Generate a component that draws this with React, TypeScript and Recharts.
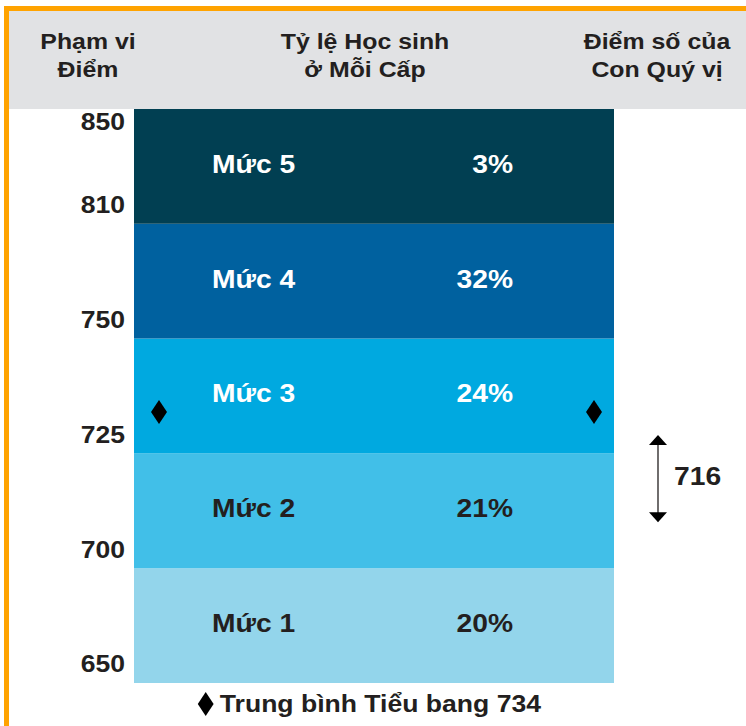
import React from "react";
import { BarChart, Bar, XAxis, YAxis, ReferenceDot, ReferenceArea } from "recharts";

const levels = ["Mức 1", "Mức 2", "Mức 3", "Mức 4", "Mức 5"];
const percents = [20, 21, 24, 32, 3];
const cutScores = [650, 700, 725, 750, 810, 850];
const bandUnits = [1, 1, 1, 1, 1]; // every level drawn with the same height
const bandColors = ["#93d5eb", "#41bfe8", "#00a9e0", "#00619f", "#013f52"];
const labelColors = ["#231f20", "#231f20", "#ffffff", "#ffffff", "#ffffff"];
const stateAverage = 734;
const childScore = 716;
const childLow = 710;
const childHigh = 729;
const headers = [
  ["Phạm vi", "Điểm"],
  ["Tỷ lệ Học sinh", "ở Mỗi Cấp"],
  ["Điểm số của", "Con Quý vị"],
];
const headerCenters = [88, 365, 657];

const FONT = "'Liberation Sans', Arial, Helvetica, sans-serif";
const SX = 1.13;
const INK = "#231f20";

const row: Record<string, number | string> = { name: "score" };
levels.forEach((_, i) => (row["l" + i] = bandUnits[i]));
const data = [row];

function scoreToUnit(s: number): number {
  for (let i = 0; i < cutScores.length - 1; i++) {
    if (s >= cutScores[i] && s <= cutScores[i + 1]) {
      return i + (s - cutScores[i]) / (cutScores[i + 1] - cutScores[i]);
    }
  }
  return 0;
}

const Tick = (props: any) => {
  const { x, y, payload } = props;
  const v = payload.value as number;
  const dy = v === cutScores.length - 1 ? 13 : -19;
  return (
    <text
      transform={`translate(${x},${y + dy}) scale(${SX},1)`}
      textAnchor="end"
      dominantBaseline="central"
      fontFamily={FONT}
      fontWeight="bold"
      fontSize={23.5}
      fill={INK}
    >
      {cutScores[v]}
    </text>
  );
};

const makeLabel = (i: number) => (props: any) => {
  const { x, y, width, height } = props;
  const cy = Number(y) + Number(height) / 2 - 2;
  return (
    <g>
      <text
        transform={`translate(${Number(x) + 78},${cy}) scale(${SX},1)`}
        dominantBaseline="central"
        fontFamily={FONT}
        fontWeight="bold"
        fontSize={25}
        fill={labelColors[i]}
      >
        {levels[i]}
      </text>
      <text
        transform={`translate(${Number(x) + Number(width) - 101},${cy}) scale(${SX},1)`}
        textAnchor="end"
        dominantBaseline="central"
        fontFamily={FONT}
        fontWeight="bold"
        fontSize={25}
        fill={labelColors[i]}
      >
        {percents[i]}%
      </text>
    </g>
  );
};

const diamond = (cx: number, cy: number, w = 16, h = 24) =>
  `M${cx},${cy - h / 2} L${cx + w / 2},${cy} L${cx},${cy + h / 2} L${cx - w / 2},${cy} Z`;

const LeftDiamond = (props: any) => <path d={diamond(props.cx - 215, props.cy)} fill="#000" />;
const RightDiamond = (props: any) => <path d={diamond(props.cx + 220, props.cy)} fill="#000" />;

const ArrowShape = (props: any) => {
  const { x, y, width, height } = props;
  const ax = Number(x) + Number(width) + 44;
  const top = Number(y);
  const bot = Number(y) + Number(height);
  const mid = (top + bot) / 2;
  return (
    <g>
      <line x1={ax} y1={top + 8} x2={ax} y2={bot - 8} stroke="#231f20" strokeWidth={1.3} />
      <path d={`M${ax},${top} L${ax + 9},${top + 10} L${ax - 9},${top + 10} Z`} fill="#000" />
      <path d={`M${ax},${bot} L${ax + 9},${bot - 10} L${ax - 9},${bot - 10} Z`} fill="#000" />
      <text
        transform={`translate(${ax + 16},${mid - 2}) scale(${SX},1)`}
        dominantBaseline="central"
        fontFamily={FONT}
        fontWeight="bold"
        fontSize={25}
        fill={INK}
      >
        {childScore}
      </text>
    </g>
  );
};

export default function App() {
  const avgUnit = scoreToUnit(stateAverage);
  return (
    <div style={{ position: "absolute", left: 0, top: 0, width: 746, height: 726, background: "#fff", overflow: "hidden" }}>
      <div style={{ position: "absolute", left: 4, top: 6, width: 742, height: 5, background: "#ffa300" }} />
      <div style={{ position: "absolute", left: 4, top: 6, width: 5, height: 720, background: "#ffa300" }} />
      <div style={{ position: "absolute", left: 9, top: 11, width: 737, height: 98, background: "#e1e2e4" }} />
      {headers.map((lines, i) => (
        <div
          key={i}
          style={{
            position: "absolute",
            left: headerCenters[i] - 120,
            top: 28,
            width: 240,
            textAlign: "center",
            fontFamily: FONT,
            fontWeight: "bold",
            fontSize: 22,
            lineHeight: "28px",
            color: INK,
            transform: `scaleX(${SX})`,
          }}
        >
          {lines[0]}
          <br />
          {lines[1]}
        </div>
      ))}
      <div style={{ position: "absolute", left: 0, top: 0 }}>
        <BarChart
          width={746}
          height={726}
          data={data}
          margin={{ top: 109, right: 132, bottom: 43, left: 0 }}
          barCategoryGap={0}
          barGap={0}
        >
          <XAxis dataKey="name" type="category" hide />
          <YAxis
            type="number"
            domain={[0, cutScores.length - 1]}
            ticks={cutScores.map((_, i) => i)}
            interval={0}
            width={134}
            axisLine={false}
            tickLine={false}
            tickSize={0}
            tickMargin={9}
            tick={<Tick />}
          />
          {levels.map((_, i) => (
            <Bar
              key={i}
              dataKey={"l" + i}
              stackId="s"
              fill={bandColors[i]}
              isAnimationActive={false}
              label={makeLabel(i)}
            />
          ))}
          <ReferenceDot x="score" y={avgUnit} r={8} ifOverflow="visible" shape={<LeftDiamond />} />
          <ReferenceDot x="score" y={avgUnit} r={8} ifOverflow="visible" shape={<RightDiamond />} />
          <ReferenceArea
            x1="score"
            x2="score"
            y1={scoreToUnit(childLow)}
            y2={scoreToUnit(childHigh)}
            ifOverflow="visible"
            shape={<ArrowShape />}
          />
        </BarChart>
      </div>
      <div
        style={{
          position: "absolute",
          left: 0,
          top: 690,
          width: 746,
          display: "flex",
          justifyContent: "center",
          alignItems: "center",
          paddingRight: 8,
          boxSizing: "border-box",
        }}
      >
        <div style={{ display: "flex", alignItems: "center", transform: `scaleX(${SX})` }}>
          <svg width={15} height={26} style={{ marginRight: 5 }}>
            <path d={diamond(7.5, 13, 14, 24)} fill="#000" />
          </svg>
          <span style={{ fontFamily: FONT, fontWeight: "bold", fontSize: 23.5, lineHeight: "28px", color: INK }}>
            Trung bình Tiểu bang {stateAverage}
          </span>
        </div>
      </div>
    </div>
  );
}
